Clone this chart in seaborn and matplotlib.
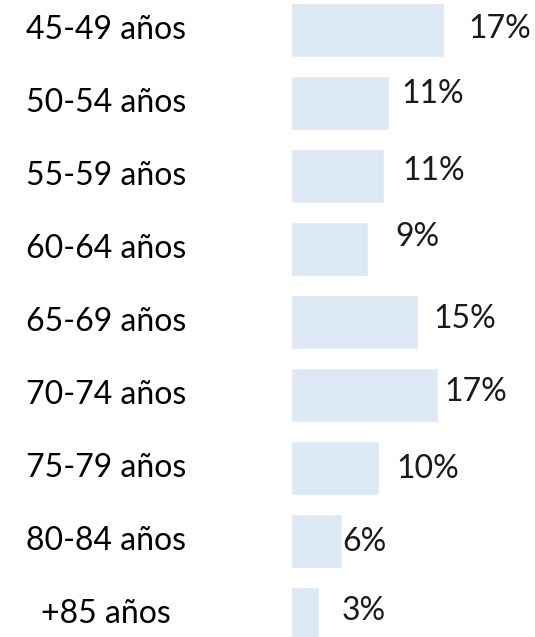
import matplotlib
matplotlib.use("Agg")
import matplotlib.pyplot as plt
import matplotlib.transforms as mtransforms
import seaborn as sns
import pandas as pd

categories = ["45-49 años", "50-54 años", "55-59 años", "60-64 años", "65-69 años",
              "70-74 años", "75-79 años", "80-84 años", "+85 años"]
values = [17.4, 11.1, 10.6, 8.8, 14.4, 16.7, 10.0, 5.8, 3.2]
value_labels = ["17%", "11%", "11%", "9%", "15%", "17%", "10%", "6%", "3%"]

# label offsets from bar end (pixels), layout only
label_dx = [24, 13, 18, 27, 16, 6, 17, 0, 22]
label_dy = [1, 9, 5, 12, 3, 3, -1, -1, 3]

sns.set_theme(style="white")
plt.rcParams["font.family"] = ["Lato", "DejaVu Sans"]

df = pd.DataFrame({"cat": categories, "val": values})

W, H, DPI = 535, 637, 100
fig = plt.figure(figsize=(W / DPI, H / DPI), dpi=DPI)
ax = fig.add_axes([291 / W, 0, (W - 291) / W, 1])

sns.barplot(data=df, x="val", y="cat", orient="h", color="#DDE8F5",
            saturation=1, width=0.74, ax=ax)

scale = 8.8  # px per unit
ax.set_xlim(0, (W - 291) / scale)
ax.set_ylim((H - 30.3) / 73.0, -30.3 / 73.0)

for i, (v, lab) in enumerate(zip(values, value_labels)):
    ax.annotate(lab, xy=(v, i), xytext=(label_dx[i], label_dy[i]),
                textcoords="offset pixels", ha="left", va="center",
                fontsize=23, fontweight="normal", color="#1a1a1a")

ax.set_xlabel("")
ax.set_ylabel("")
ax.set_xticks([])
ax.tick_params(axis="y", length=0, pad=133, labelsize=23, labelcolor="#000000")
shift = mtransforms.ScaledTranslation(0, 3 / DPI, fig.dpi_scale_trans)
for t in ax.get_yticklabels():
    t.set_ha("center")
    t.set_transform(t.get_transform() + shift)
for s in ax.spines.values():
    s.set_visible(False)

fig.savefig("out.png", dpi=DPI, facecolor="white")
